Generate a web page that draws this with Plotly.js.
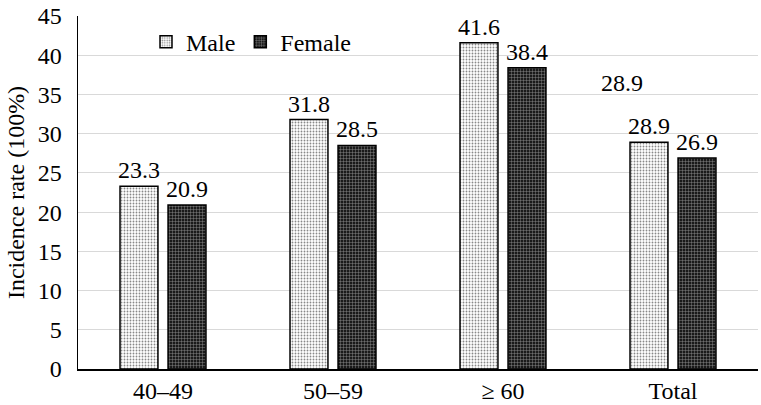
<!DOCTYPE html>
<html><head><meta charset="utf-8">
<script src="https://cdn.plot.ly/plotly-3.0.1.min.js"></script>
<style>html,body{margin:0;padding:0;background:#fff}</style>
</head><body><div id="c" style="width:761px;height:405px"></div>
<script>
var categories = ['40–49', '50–59', '≥ 60', 'Total'];
var maleValues = [23.3, 31.8, 41.6, 28.9];
var femaleValues = [20.9, 28.5, 38.4, 26.9];
var seriesNames = ['Male', 'Female'];
var yTicks = [0, 5, 10, 15, 20, 25, 30, 35, 40, 45];
var strayLabel = {category: 'Total', value: 36.5, text: '28.9'};

var F = 'Liberation Serif, Times New Roman, serif';
var S = 24;
var traces = [
  {type: 'bar', name: seriesNames[0], x: categories, y: maleValues,
   text: maleValues.map(function(v){return v.toFixed(1);}), textposition: 'outside',
   constraintext: 'none',
   textfont: {family: F, size: S, color: '#000'}, cliponaxis: false,
   marker: {color: '#fff', line: {color: '#000', width: 1.5},
     pattern: {shape: '.', fgcolor: '#888', bgcolor: '#fff', size: 3, solidity: 0.3}}},
  {type: 'bar', name: seriesNames[1], x: categories, y: femaleValues,
   text: femaleValues.map(function(v){return v.toFixed(1);}), textposition: 'outside',
   constraintext: 'none',
   textfont: {family: F, size: S, color: '#000'}, cliponaxis: false,
   marker: {color: '#222', line: {color: '#000', width: 1.5},
     pattern: {shape: '+', fgcolor: '#9a9a9a', bgcolor: '#1a1a1a', size: 3, solidity: 0.25}}}
];
var layout = {
  width: 761, height: 405,
  margin: {l: 78, r: 3, t: 16, b: 36},
  paper_bgcolor: '#fff', plot_bgcolor: '#fff',
  font: {family: F, size: S, color: '#000'},
  barmode: 'group', bargap: 0.435, bargroupgap: 0.21,
  showlegend: true,
  legend: {orientation: 'h', x: 0.1, y: 0.99, xanchor: 'left', yanchor: 'top',
    font: {family: F, size: S, color: '#000'}, bgcolor: 'rgba(0,0,0,0)', itemwidth: 30},
  xaxis: {type: 'category', showline: true, linecolor: '#000', linewidth: 1.5,
    ticks: '', showgrid: false, tickfont: {family: F, size: S}, zeroline: false, automargin: false},
  yaxis: {range: [0, 45], tickvals: yTicks, showline: true, linecolor: '#000', linewidth: 1.5,
    ticks: '', showgrid: true, gridcolor: '#d9d9d9', gridwidth: 1, zeroline: false, automargin: false,
    tickfont: {family: F, size: S}, ticklabelstandoff: 10,
    title: {text: 'Incidence rate (100%)', font: {family: F, size: S}, standoff: 6}},
  annotations: [{x: strayLabel.category, y: strayLabel.value, xref: 'x', yref: 'y',
    text: strayLabel.text, showarrow: false, xshift: -51,
    font: {family: F, size: S, color: '#000'}}]
};
Plotly.newPlot('c', traces, layout, {displayModeBar: false, staticPlot: true});
</script></body></html>
